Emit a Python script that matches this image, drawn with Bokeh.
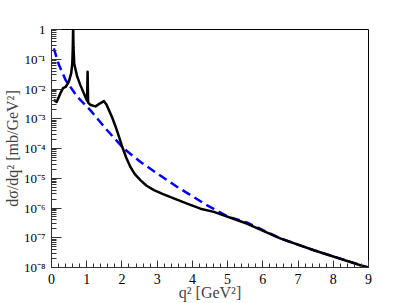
from bokeh.plotting import figure
from bokeh.models import FixedTicker, Range1d
from bokeh.embed import file_html
from bokeh.resources import INLINE

# Full calculation (black, solid)
q2_full = [0.065, 0.15, 0.25, 0.33, 0.40, 0.49, 0.56, 0.59, 0.605, 0.615, 0.625, 0.645,
           0.73, 0.82, 0.96, 1.01, 1.025, 1.04, 1.11, 1.25, 1.38, 1.49, 1.56, 1.63, 1.72, 1.82,
           1.92, 2.01, 2.12, 2.24, 2.36, 2.53, 2.70, 2.91, 3.15, 3.47, 3.85, 4.23, 4.61, 5.56,
           6.51, 7.45, 8.94, 9.0]
xs_full = [4.3e-3, 3.7e-3, 7.1e-3, 1.07e-2, 1.17e-2, 1.74e-2, 3.4e-2, 7.2e-2, 0.25, 1.5, 0.25, 7.2e-2,
           2.6e-2, 1.35e-2, 5.5e-3, 4.0e-3, 3.8e-2, 3.5e-3, 2.9e-3, 2.6e-3, 3.3e-3, 3.9e-3, 3.0e-3,
           1.95e-3, 1.12e-3, 5.4e-4, 2.4e-4, 1.12e-4, 5.0e-5, 2.4e-5, 1.4e-5, 8.5e-6, 5.6e-6, 4.0e-6,
           3.0e-6, 2.1e-6, 1.4e-6, 9.5e-7, 7.4e-7, 2.95e-7, 9.3e-8, 3.8e-8, 1.02e-8, 1.0e-8]

# Smooth approximation (blue, dashed)
q2_smooth = [0.065, 0.21, 0.40, 0.73, 1.10, 1.58, 2.05, 2.53, 3.00, 3.57, 4.42, 5.0, 5.56, 6.5, 7.45, 9.0]
xs_smooth = [0.234, 6.5e-2, 2.0e-2, 5.5e-3, 1.95e-3, 4.1e-4, 1.0e-4, 3.5e-5, 1.45e-5, 5.1e-6, 1.23e-6,
             5.2e-7, 3.2e-7, 9.5e-8, 3.8e-8, 1.0e-8]

x_ticks = [0, 1, 2, 3, 4, 5, 6, 7, 8, 9]
y_ticks = [1e-8, 1e-7, 1e-6, 1e-5, 1e-4, 1e-3, 1e-2, 1e-1, 1.0]
y_tick_labels = ["10⁻⁸", "10⁻⁷", "10⁻⁶", "10⁻⁵", "10⁻⁴", "10⁻³", "10⁻²", "10⁻¹", "1"]

FONT = "Liberation Serif"

p = figure(width=407, height=303, y_axis_type="log",
           x_range=Range1d(0, 9), y_range=Range1d(1e-8, 1.0),
           output_backend="svg", toolbar_location=None,
           min_border_left=51, min_border_right=39, min_border_top=29, min_border_bottom=36)
p.grid.visible = False
p.outline_line_color = "black"
p.outline_line_width = 1
p.background_fill_color = "white"
p.border_fill_color = "white"

p.line(q2_smooth, xs_smooth, line_color="#0000ff", line_width=2.5, line_dash="9 5")
p.line(q2_full, xs_full, line_color="black", line_width=2.5, line_join="round")

xa = p.xaxis[0]
xa.ticker = FixedTicker(ticks=x_ticks, minor_ticks=[i * 0.2 for i in range(46)])
xa.major_tick_in = 7
xa.major_tick_out = 0
xa.minor_tick_in = 4
xa.minor_tick_out = 0
xa.major_label_standoff = 6
xa.major_label_text_font = FONT
xa.major_label_text_font_size = "14px"
xa.major_label_text_color = "black"
xa.axis_label = "q² [GeV²]"
xa.axis_label_text_font = FONT
xa.axis_label_text_font_size = "16px"
xa.axis_label_text_font_style = "normal"
xa.axis_label_standoff = -3
xa.axis_line_color = "#333333"
xa.major_tick_line_color = "#333333"
xa.minor_tick_line_color = "#333333"

ya = p.yaxis[0]
minor_y = [m * 10.0 ** (-k) for k in range(1, 9) for m in range(2, 10)]
ya.ticker = FixedTicker(ticks=y_ticks, minor_ticks=minor_y)
ya.major_label_overrides = {t: s for t, s in zip(y_ticks, y_tick_labels)}
ya.major_tick_in = 10
ya.major_tick_out = 0
ya.minor_tick_in = 5
ya.minor_tick_out = 0
ya.major_label_standoff = 6
ya.major_label_text_font = FONT
ya.major_label_text_font_size = "13px"
ya.major_label_text_color = "black"
ya.axis_label = "dσ/dq² [mb/GeV²]"
ya.axis_label_text_font = FONT
ya.axis_label_text_font_size = "16px"
ya.axis_label_text_font_style = "normal"
ya.axis_label_standoff = 0
ya.axis_line_color = "#333333"
ya.major_tick_line_color = "#333333"
ya.minor_tick_line_color = "#333333"

open("out.html", "w").write(file_html(p, INLINE))
